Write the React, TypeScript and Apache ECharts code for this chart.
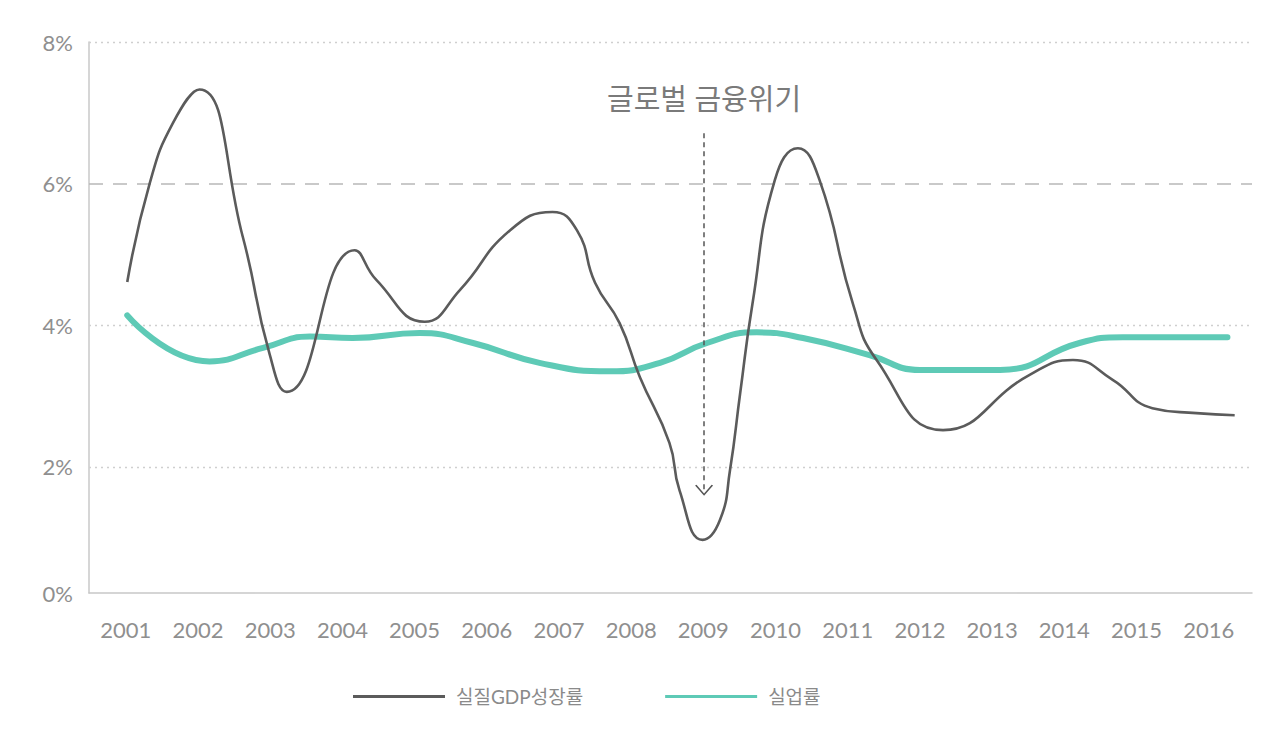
import React, { useEffect, useRef } from "react";
import * as echarts from "echarts";

const yearTicks = [2001, 2002, 2003, 2004, 2005, 2006, 2007, 2008, 2009, 2010, 2011, 2012, 2013, 2014, 2015, 2016];

// [year position, value %]
const gdpYears = [2001.02, 2001.33, 2001.65, 2002.02, 2002.62, 2002.99, 2003.23, 2004.17, 2004.47, 2005.14, 2005.63, 2006.32, 2006.91, 2007.25, 2007.5, 2007.84, 2008.12, 2008.53, 2008.67, 2008.99, 2009.23, 2009.37, 2009.51, 2009.68, 2009.99, 2010.31, 2010.61, 2011.07, 2011.4, 2012.32, 2013.52, 2014.12, 2014.67, 2015.22, 2015.83, 2016.36];
const gdpValues = [4.61, 6.0, 6.85, 7.33, 5.25, 3.6, 3.06, 5.06, 4.64, 4.05, 4.5, 5.34, 5.6, 5.34, 4.6, 4.03, 3.27, 2.34, 1.67, 0.97, 1.25, 1.96, 3.04, 4.3, 6.05, 6.5, 6.05, 4.31, 3.51, 2.52, 3.3, 3.51, 3.23, 2.83, 2.76, 2.73];

const unempYears = [2001.02, 2002.16, 2002.9, 2003.55, 2004.14, 2005.07, 2005.81, 2006.73, 2007.7, 2008.4, 2009.05, 2009.74, 2010.38, 2011.3, 2012.0, 2013.11, 2014.21, 2014.81, 2016.26];
const unempValues = [4.14, 3.49, 3.68, 3.84, 3.82, 3.89, 3.75, 3.47, 3.35, 3.47, 3.75, 3.9, 3.82, 3.58, 3.37, 3.37, 3.75, 3.83, 3.83];

const gridLevels = [2, 4, 8];
const referenceLevel = 6;
const crisisYear = 2009.01;
const crisisArrowTop = 6.71;
const crisisArrowBottom = 1.67;
const crisisLabel = "글로벌 금융위기";

const seriesNames = ["실질GDP성장률", "실업률"];

const FONT = "Lato, 'Noto Sans CJK KR', 'Noto Sans', sans-serif";

export default function App() {
  const ref = useRef<HTMLDivElement>(null);
  useEffect(() => {
    document.body.style.margin = "0";
    if (!ref.current) return;
    const chart = echarts.init(ref.current, undefined, { renderer: "svg" });
    const gdp = gdpYears.map((x, i) => [x, gdpValues[i]]);
    const unemp = unempYears.map((x, i) => [x, unempValues[i]]);
    chart.setOption({
      animation: false,
      backgroundColor: "#ffffff",
      grid: { left: 89, right: 28, top: 42, bottom: 160 },
      legend: {
        left: 348,
        top: 682,
        itemWidth: 92,
        itemHeight: 3,
        itemGap: 82,
        icon: "rect",
        textStyle: { color: "#8a8a8a", fontSize: 19, fontFamily: FONT, padding: [0, 0, 0, 6] },
        data: seriesNames,
      },
      xAxis: {
        type: "value",
        min: 2000.49,
        max: 2016.6,
        minInterval: 1,
        maxInterval: 1,
        splitNumber: 16,
        axisLine: { show: true, lineStyle: { color: "#c8c8c8", width: 1.5 } },
        axisTick: { show: false },
        splitLine: { show: false },
        axisLabel: {
          color: "#8f8f8f",
          fontSize: 22,
          fontFamily: FONT,
          margin: 25,
          showMinLabel: true,
          showMaxLabel: true,
          formatter: (v: number) => (yearTicks.indexOf(Math.round(v * 100) / 100) >= 0 ? String(v) : ""),
        },
      },
      yAxis: {
        type: "value",
        min: 0.22,
        max: 8,
        splitNumber: 4,
        axisLine: { show: true, lineStyle: { color: "#c8c8c8", width: 1.5 } },
        axisTick: { show: false },
        splitLine: { show: false },
        axisLabel: {
          color: "#8f8f8f",
          fontSize: 22,
          fontFamily: FONT,
          margin: 16,
          formatter: (v: number) => Math.round(v) + "%",
        },
      },
      series: [
        {
          name: seriesNames[1],
          type: "line",
          data: unemp,
          smooth: 0.5,
          showSymbol: false,
          symbol: "none",
          color: "#5ecab6",
          lineStyle: { width: 6, color: "#5ecab6", cap: "round" },
          z: 2,
          markLine: {
            silent: true,
            symbol: "none",
            label: { show: false },
            data: [
              ...gridLevels.map((v) => ({ yAxis: v, lineStyle: { type: [2, 4], color: "#cfcfcf", width: 1.3 } })),
              { yAxis: referenceLevel, lineStyle: { type: [14, 10], color: "#b8b8b8", width: 1.6 } },
            ],
            z: 1,
          },
        },
        {
          name: seriesNames[0],
          type: "line",
          data: gdp,
          smooth: 0.5,
          showSymbol: false,
          symbol: "none",
          color: "#5b5b5b",
          lineStyle: { width: 2.6, color: "#5b5b5b" },
          z: 3,
          markLine: {
            silent: true,
            symbol: ["none", "path://M0,10 L5,0 L10,10 L9.2,10.8 L5,2.2 L0.8,10.8 Z"],
            symbolSize: [18, 11],
            lineStyle: { type: [5, 4], color: "#555555", width: 1.5 },
            label: {
              show: true,
              position: "start",
              formatter: crisisLabel,
              color: "#7a7a7a",
              fontSize: 29,
              fontFamily: FONT,
              distance: 20,
            },
            data: [[{ coord: [crisisYear, crisisArrowTop] }, { coord: [crisisYear, crisisArrowBottom] }]],
          },
        },
      ],
    });
    return () => chart.dispose();
  }, []);
  return <div ref={ref} style={{ width: 1280, height: 753 }} />;
}
